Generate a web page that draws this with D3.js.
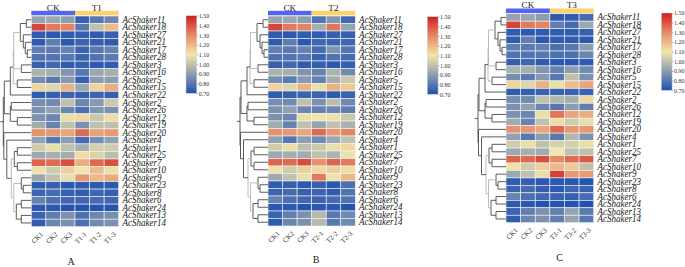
<!DOCTYPE html>
<html>
<head>
<meta charset="utf-8">
<script src="https://cdnjs.cloudflare.com/ajax/libs/d3/7.8.5/d3.min.js"></script>
<style>
  html, body { margin: 0; padding: 0; background: #fff; }
  svg { display: block; }
  text { font-family: "Liberation Serif", serif; }
</style>
</head>
<body>
<svg id="chart" width="685" height="267"></svg>
<script>
// gene numbers, top to bottom
var genes = [11, 18, 27, 21, 17, 28, 3, 16, 5, 15, 22, 2, 26, 12, 19, 20, 4, 1, 25, 7, 10, 9, 23, 8, 6, 24, 13, 14];

// same row order as genes, one triple per row
var ckValues = [
  [.92, .93, .90], [1.43, 1.33, 1.31], [.73, .72, .73], [.73, .82, .72], [.82, .81, .83], [.79, .79, .80], [.74, .76, .73],
  [.96, .95, .88], [.86, .81, .89], [1.14, 1.06, 1.21], [.73, .74, .75], [.86, .85, 1.00], [.87, .91, .84], [.87, .84, 1.08],
  [.94, .83, 1.00], [1.28, 1.27, 1.24], [.91, .80, .90], [1.03, 1.08, 1.00], [.93, .95, .94], [1.37, 1.36, 1.41], [1.11, 1.03, 1.15],
  [.93, 1.00, 1.08], [.73, .74, .72], [.75, .77, .74], [.83, .78, .76], [.72, .72, .71], [.75, .82, .87], [.73, .84, .87]
];
var t1Values = [
  [.74, .80, .84], [.80, 1.00, 1.19], [.74, .73, .74], [.75, .74, .73], [.75, .80, .83], [.75, .79, .81], [.74, .72, .73],
  [.80, .93, .95], [.74, .90, .90], [.93, 1.14, 1.22], [.74, .75, .74], [.84, .89, 1.02], [.78, .88, .87], [1.13, 1.02, 1.12],
  [.87, 1.00, 1.00], [1.36, 1.25, 1.26], [.77, .86, .91], [.95, 1.04, 1.03], [1.12, 1.05, .99], [1.22, 1.36, 1.41], [1.10, 1.19, 1.08],
  [1.27, 1.20, 1.23], [.73, .72, .72], [.73, .76, .74], [.76, .77, .76], [.71, .71, .71], [.78, .84, .86], [.78, .85, .87]
];
var t2Values = [
  [.79, .88, .76], [.95, 1.34, .92], [.73, .74, .74], [.76, .75, .76], [.77, .88, .80], [.75, .79, .77], [.74, .72, .74],
  [.83, .96, .85], [.83, .95, 1.02], [1.08, 1.21, 1.16], [.75, .73, .75], [.87, .99, .85], [.83, .84, .82], [1.10, 1.09, 1.02],
  [.92, 1.00, .96], [1.36, 1.27, 1.31], [.85, .93, 1.00], [1.02, 1.08, 1.13], [1.00, .96, 1.09], [1.28, 1.37, 1.33], [1.13, 1.15, 1.12],
  [1.33, 1.09, 1.20], [.74, .72, .78], [.75, .73, .79], [.75, .77, .79], [.72, .72, .71], [.98, .80, .85], [.98, .80, .85]
];
var t3Values = [
  [.73, .73, .77], [.82, .77, .93], [.73, .73, .74], [.73, .73, .72], [.78, .80, .90], [.78, .78, .84], [.72, .72, .73],
  [.83, .90, .85], [.80, 1.00, .87], [1.08, 1.19, 1.24], [.75, .75, .75], [.97, .95, 1.13], [.80, .90, .82], [1.34, 1.24, 1.22],
  [1.12, 1.03, 1.08], [1.36, 1.27, 1.27], [.80, .97, .87], [1.04, 1.04, 1.08], [1.10, 1.00, 1.00], [1.30, 1.36, 1.39], [1.20, 1.16, 1.00],
  [1.44, 1.27, 1.26], [.72, .72, .71], [.72, .76, .75], [.75, .74, .77], [.71, .71, .70], [.82, .92, .81], [.82, .92, .80]
];
var legendTicks = [0.7, 0.8, 0.9, 1.0, 1.1, 1.2, 1.3, 1.4, 1.5];
var colorStops = [0.70, 0.90, 1.10, 1.30, 1.50];
var colorRange = ['#2050b0', '#8c9db0', '#f2e6a8', '#e58a66', '#cf1f1f'];

// clustering tree: [merge distance, child, child, light?], numbers alone are genes
var tree = [28,
  [27,
    [21,
      [18,
        [17.5,
          [11, [5, 11, 18], [8, 27, [6, 21, [4, 17, 28]]]],
          [10, 3, 16], 1],
        [14, 5, 15], 1],
      22],
    [21, [20, 2, 26], [14, 12, 19]]],
  [27.5,
    20,
    [24.5,
      4,
      [20,
        [17, [14, 1, 25], [14, 7, 10]],
        [17.5,
          [10, 9, [8, 23, 8]],
          [15, [10, 6, 24], [10, 13, 14]], 1],
        1]]]];

var color = d3.scaleLinear().domain(colorStops).range(colorRange);
var svg = d3.select('#chart');

function drawPanel(p) {
  var g = svg.append('g');
  var rows = d3.scaleBand().domain(genes).range([p.y0, p.y1]);
  var cols = d3.scaleBand().domain(p.columns).range([p.x0, p.x1]);

  // group bars
  var half = p.columns.length / 2;
  [['CK', p.columns.slice(0, half), '#5463f2'], [p.group, p.columns.slice(half), '#fdd26a']].forEach(function(b) {
    var left = cols(b[1][0]), right = cols(b[1][b[1].length - 1]) + cols.bandwidth();
    g.append('rect').attr('x', left).attr('y', p.y0 - 5.2)
      .attr('width', right - left).attr('height', 4.6).attr('fill', b[2]);
    g.append('text').attr('x', (left + right) / 2).attr('y', p.y0 - 5.5)
      .attr('text-anchor', 'middle').attr('font-size', 9.2).attr('fill', '#222').text(b[0]);
  });

  // cells
  genes.forEach(function(gene, i) {
    p.columns.forEach(function(c, j) {
      var v = j < half ? ckValues[i][j] : p.values[i][j - half];
      g.append('rect')
        .attr('x', cols(c)).attr('y', rows(gene))
        .attr('width', cols.bandwidth()).attr('height', rows.bandwidth())
        .attr('fill', color(v)).attr('stroke', '#f2f4f8').attr('stroke-width', 0.6);
    });
    // labels are squeezed sideways in the original
    g.append('text')
      .attr('transform', 'translate(' + (p.x1 + 3.8) + ',' + (rows(gene) + rows.bandwidth() / 2 + 3) + ') scale(0.9,1)')
      .attr('font-size', 10).attr('font-style', 'italic').attr('fill', '#222')
      .text('AcShaker' + gene);
  });

  // column labels
  p.columns.forEach(function(c) {
    var cx = cols(c) + cols.bandwidth() / 2 + 2;
    g.append('text').attr('transform', 'translate(' + cx + ',' + (p.y1 + 5) + ') rotate(-45)')
      .attr('text-anchor', 'end').attr('dy', '0.6em').attr('font-size', 7).attr('fill', '#333').text(c);
  });

  // dendrogram
  var dist = d3.scaleLinear().domain([0, 28]).range([p.x0, p.x0 - 28]);
  function walk(n) {
    if (typeof n === 'number') return {x: p.x0, y: rows(n) + rows.bandwidth() / 2};
    var a = walk(n[1]), b = walk(n[2]), x = dist(n[0]);
    var stroke = n[3] ? '#b4b4b4' : '#4a4a4a';
    g.append('path')
      .attr('d', 'M' + a.x + ',' + a.y + 'H' + x + 'V' + b.y + 'H' + b.x)
      .attr('fill', 'none').attr('stroke', stroke).attr('stroke-width', 0.9);
    return {x: x, y: (a.y + b.y) / 2};
  }
  var root = walk(tree);
  g.append('path').attr('d', 'M' + root.x + ',' + root.y + 'H' + (root.x - 3))
    .attr('fill', 'none').attr('stroke', '#4a4a4a').attr('stroke-width', 0.9);

  // colour key
  var scale = d3.scaleLinear().domain([0.7, 1.5]).range([p.ky1, p.ky0]);
  var id = 'key' + p.group;
  var grad = svg.append('defs').append('linearGradient').attr('id', id)
    .attr('x1', 0).attr('y1', 1).attr('x2', 0).attr('y2', 0);
  colorStops.forEach(function(s, i) {
    grad.append('stop').attr('offset', (s - 0.7) / 0.8).attr('stop-color', colorRange[i]);
  });
  g.append('rect').attr('x', p.kx).attr('y', p.ky0).attr('width', 10.8).attr('height', p.ky1 - p.ky0)
    .attr('fill', 'url(#' + id + ')').attr('stroke', '#c9d3e6').attr('stroke-width', 0.5);
  var axis = g.append('g').attr('transform', 'translate(' + (p.kx + 10.8) + ',0)')
    .call(d3.axisRight(scale).tickValues(legendTicks).tickFormat(d3.format('.2f')).tickSize(1.5).tickPadding(0.5));
  axis.select('.domain').remove();
  axis.selectAll('line').attr('stroke', '#777').attr('stroke-width', 0.5);
  axis.selectAll('text').attr('font-size', 6).attr('fill', '#333').attr('font-family', '"Liberation Serif", serif');

  g.append('text').attr('x', p.letterX).attr('y', p.letterY).attr('text-anchor', 'middle')
    .attr('font-size', 10).attr('fill', '#222').text(p.letter);
}

drawPanel({group: 'T1', letter: 'A', letterX: 71, letterY: 264.5, values: t1Values,
  columns: ['CK1', 'CK2', 'CK3', 'T1-1', 'T1-2', 'T1-3'],
  x0: 31.3, x1: 118.7, y0: 16, y1: 226.7, kx: 186, ky0: 15.7, ky1: 93.3});
drawPanel({group: 'T2', letter: 'B', letterX: 316, letterY: 263, values: t2Values,
  columns: ['CK1', 'CK2', 'CK3', 'T2-1', 'T2-2', 'T2-3'],
  x0: 268, x1: 355.3, y0: 16, y1: 226, kx: 427.3, ky0: 16.7, ky1: 94.3});
drawPanel({group: 'T3', letter: 'C', letterX: 559.5, letterY: 261, values: t3Values,
  columns: ['CK1', 'CK2', 'CK3', 'T3-1', 'T3-2', 'T3-3'],
  x0: 506, x1: 593.7, y0: 13.7, y1: 222.7, kx: 661.3, ky0: 13, ky1: 90.3});
</script>
</body>
</html>
